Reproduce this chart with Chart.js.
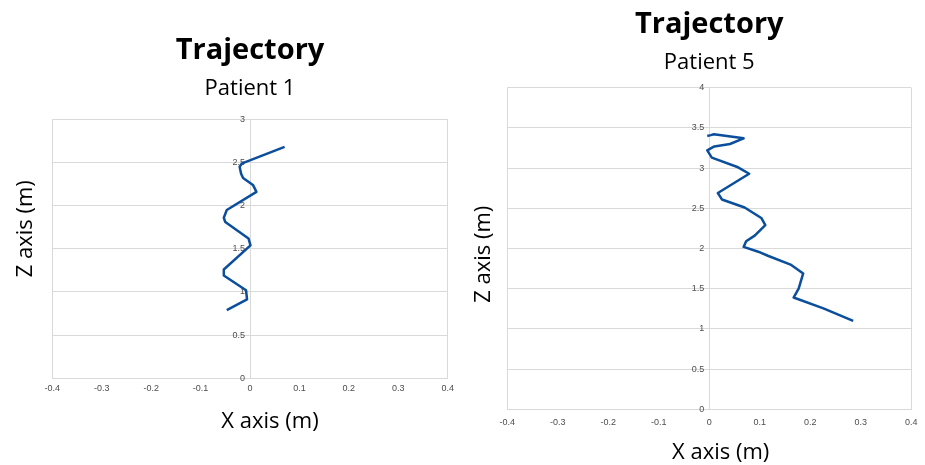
<!DOCTYPE html>
<html>
<head>
<meta charset="utf-8">
<script src="https://cdn.jsdelivr.net/npm/chart.js@4/dist/chart.umd.min.js"></script>
<style>
  body { margin: 0; background: #fff; }
  .wrap { position: absolute; top: 0; }
</style>
</head>
<body>
<div class="wrap" style="left:0"><canvas id="p1" width="460" height="465"></canvas></div>
<div class="wrap" style="left:460px"><canvas id="p5" width="465" height="465"></canvas></div>
<script>
// tick labels
const xTicks = [-0.4, -0.3, -0.2, -0.1, 0, 0.1, 0.2, 0.3, 0.4];
const p1ZTicks = [0, 0.5, 1, 1.5, 2, 2.5, 3];
const p5ZTicks = [0, 0.5, 1, 1.5, 2, 2.5, 3, 3.5, 4];

// patient 1 trajectory (x, z in metres)
const p1X = [-0.047, -0.006, -0.008, -0.053, -0.053, 0.001, -0.003, -0.050, -0.053, -0.047, 0.013, 0.006, -0.014, -0.018, -0.021, -0.016, 0.070];
const p1Z = [0.79, 0.915, 1.02, 1.19, 1.26, 1.54, 1.62, 1.81, 1.86, 1.95, 2.16, 2.24, 2.32, 2.37, 2.45, 2.49, 2.68];

// patient 5 trajectory
const p5X = [0.285, 0.226, 0.167, 0.177, 0.186, 0.161, 0.116, 0.097, 0.068, 0.073, 0.090, 0.111, 0.103, 0.070, 0.025, 0.017, 0.079, 0.057, 0.005, -0.004, 0.010, 0.041, 0.068, 0.035, 0.009, 0.003, -0.004];
const p5Z = [1.10, 1.256, 1.39, 1.50, 1.69, 1.80, 1.91, 1.96, 2.02, 2.09, 2.16, 2.29, 2.38, 2.51, 2.61, 2.69, 2.93, 3.01, 3.13, 3.22, 3.27, 3.30, 3.37, 3.40, 3.42, 3.41, 3.40];

const lineBlue = "#0b4f9c";
const gridGrey = "#d9d9d9";
const tickColor = "#4d4d4d";
const tickFont = { family: "Liberation Sans", size: 9 };
const axisTitleFont = { family: "Open Sans", size: 22, lineHeight: 1 };

function makeChart(id, o) {
  const points = o.xs.map((x, i) => ({ x: x, y: o.zs[i] }));
  const zMax = o.zTicks[o.zTicks.length - 1];
  return new Chart(document.getElementById(id), {
    type: "scatter",
    data: {
      datasets: [{
        data: points,
        showLine: true,
        borderColor: lineBlue,
        borderWidth: 2.5,
        borderJoinStyle: "round",
        pointRadius: 0,
        tension: 0
      }]
    },
    options: {
      responsive: false,
      animation: false,
      events: [],
      layout: { padding: o.pad },
      plugins: {
        legend: { display: false },
        tooltip: { enabled: false },
        title: {
          display: true,
          text: "Trajectory",
          fullSize: false,
          color: "#000",
          font: { family: "Open Sans", size: 29, weight: "bold" },
          padding: o.titlePad
        },
        subtitle: {
          display: true,
          text: o.subtitle,
          fullSize: false,
          color: "#000",
          font: { family: "Open Sans", size: 22 },
          padding: o.subPad
        }
      },
      scales: {
        x: {
          type: "linear",
          min: -0.4,
          max: 0.4,
          afterBuildTicks: s => { s.ticks = xTicks.map(v => ({ value: v })); },
          ticks: { color: tickColor, font: tickFont, padding: o.xTickPad, maxRotation: 0, callback: v => String(v) },
          grid: {
            drawTicks: false,
            color: c => Math.abs(c.tick.value) > 0.35 ? gridGrey : "rgba(0,0,0,0)"
          },
          border: { color: gridGrey },
          title: { display: true, text: o.xTitle, color: "#000", font: axisTitleFont, padding: { top: o.xTitleTop, bottom: 0 } }
        },
        y: {
          type: "linear",
          position: { x: 0 },
          min: 0,
          max: zMax,
          afterBuildTicks: s => { s.ticks = o.zTicks.map(v => ({ value: v })); },
          ticks: { color: tickColor, font: tickFont, padding: 6, callback: v => String(v) + "  " },
          grid: { drawTicks: false, color: gridGrey },
          border: { color: gridGrey }
        },
        zTitle: {
          type: "linear",
          position: "left",
          min: 0,
          max: zMax,
          ticks: { display: false },
          grid: { display: false, drawTicks: false },
          border: { display: false },
          title: { display: true, text: o.zTitle, color: "#000", font: axisTitleFont, padding: o.zTitlePad }
        }
      }
    }
  });
}

makeChart("p1", {
  subtitle: "Patient 1",
  xs: p1X, zs: p1Z, zTicks: p1ZTicks,
  pad: { left: 0, right: 12.3, top: 0, bottom: 32.3 },
  titlePad: { top: 33.8, bottom: 0 },
  subPad: { top: 6.5, bottom: 17.8 },
  xTickPad: 5,
  xTitle: "       X axis (m)",
  xTitleTop: 11.6,
  zTitle: "       Z axis (m)",
  zTitlePad: { top: 14.8, bottom: 15.5 }
});

makeChart("p5", {
  subtitle: "Patient 5",
  xs: p5X, zs: p5Z, zTicks: p5ZTicks,
  pad: { left: 0, right: 7.3, top: 0, bottom: 1 },
  titlePad: { top: 7.6, bottom: 0 },
  subPad: { top: 7.4, bottom: 11.5 },
  xTickPad: 7.5,
  xTitle: "    X axis (m)",
  xTitleTop: 6.9,
  zTitle: "Z axis (m)  ",
  zTitlePad: { top: 13.2, bottom: 12.1 }
});
</script>
</body>
</html>
